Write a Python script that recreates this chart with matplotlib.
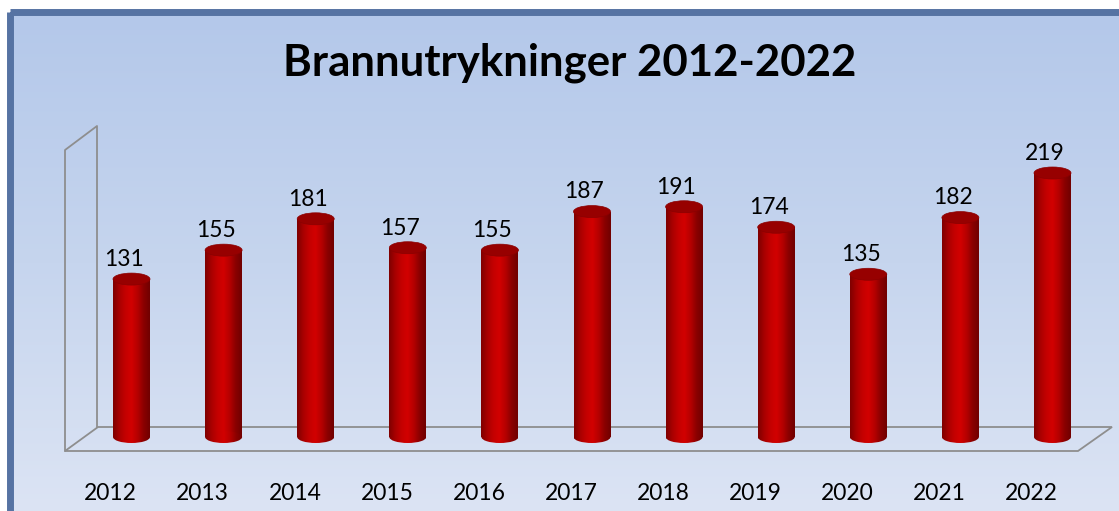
import matplotlib
matplotlib.use("Agg")
import matplotlib.pyplot as plt
import numpy as np
from matplotlib.colors import LinearSegmentedColormap
from matplotlib.patches import Rectangle, Ellipse, Polygon

years = ["2012", "2013", "2014", "2015", "2016", "2017", "2018", "2019", "2020", "2021", "2022"]
calls = [131, 155, 181, 157, 155, 187, 191, 174, 135, 182, 219]

W, H = 1119, 511
fig = plt.figure(figsize=(W / 100, H / 100), dpi=100)
fig.patch.set_facecolor("white")

# background panel in pixel coordinates
bg = fig.add_axes([0, 0, 1, 1], zorder=0)
bg.set_xlim(0, W)
bg.set_ylim(H, 0)
bg.axis("off")
grad = np.linspace(0, 1, 256).reshape(-1, 1)
bg_cmap = LinearSegmentedColormap.from_list("bg", ["#b4c8ea", "#c6d5ee", "#dce4f4"])
bg.imshow(grad, cmap=bg_cmap, extent=(12, W, H, 15), aspect="auto", interpolation="bicubic")
bg.add_patch(Rectangle((9.5, 12.5), W, H, fill=False, edgecolor="#5673a3", lw=5))

# 3d wall and floor outline
line_kw = dict(color="#8e8e8e", lw=1.3)
bg.plot([65, 65, 97, 97], [451, 150, 126, 427], **line_kw)
bg.add_patch(Polygon([(65, 451), (1078, 451), (1112, 427), (98, 427)], closed=True,
                     fill=False, edgecolor="#8e8e8e", lw=1.3))

# data axes, mapped so that bar i sits at 131.5 + 92.1*i px and 0 at y=437 px
ax = fig.add_axes([0, 0, 1, 1], zorder=1)
ax.patch.set_alpha(0)
ax.axis("off")
px_x, px_v = 92.1, 1.2055
ax.set_xlim(-131.5 / px_x, (W - 131.5) / px_x)
ax.set_ylim(-(H - 437) / px_v, 437 / px_v)

red = LinearSegmentedColormap.from_list(
    "cyl", ["#7e0000", "#a80000", "#c40000", "#d20000", "#b60000", "#8a0000", "#700000"])
hgrad = np.linspace(0, 1, 128).reshape(1, -1)
w = 37 / px_x
e = 12 / px_v

for i, v in enumerate(calls):
    body = Rectangle((i - w / 2, 0), w, v, facecolor="none", edgecolor="none")
    base = Ellipse((i, 0), w, e, facecolor="none", edgecolor="none")
    ax.add_patch(body)
    ax.add_patch(base)
    for clip in (body, base):
        im = ax.imshow(hgrad, cmap=red, extent=(i - w / 2, i + w / 2, -e, v),
                       aspect="auto", interpolation="bicubic", zorder=2)
        im.set_clip_path(clip)
    ax.add_patch(Ellipse((i, v), w, e, facecolor="#970000", edgecolor="#8a0000",
                         lw=0.5, zorder=3))
    ax.annotate(str(v), (i, v), xytext=(-5.5, 9.5), textcoords="offset points",
                ha="center", va="baseline", fontsize=16.5, family="Lato", color="black")
    ax.annotate(years[i], (i, 0), xytext=(-15, -41), textcoords="offset points",
                ha="center", va="center", fontsize=16.5, family="Lato", color="black")

ax.set_xlim(-131.5 / px_x, (W - 131.5) / px_x)
ax.set_ylim(-(H - 437) / px_v, 437 / px_v)

fig.text(570 / W, 1 - 63 / H, "Brannutrykninger 2012-2022", ha="center", va="center",
         fontsize=31.5, fontweight="bold", family="Lato", color="black")

fig.savefig("out.png", dpi=100)
